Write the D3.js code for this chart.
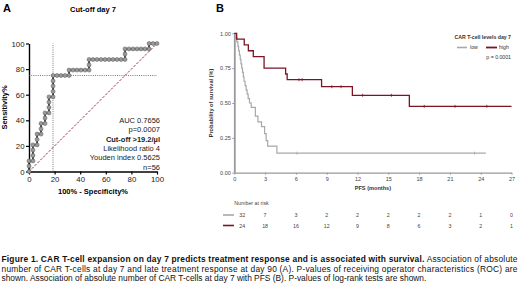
<!DOCTYPE html>
<html>
<head>
<meta charset="utf-8">
<script src="https://cdn.jsdelivr.net/npm/d3@7"></script>
<style>
  html, body { margin: 0; padding: 0; background: #fff; }
  svg { display: block; font-family: "Liberation Sans", Arial, sans-serif; }
</style>
</head>
<body>
<svg id="canvas" width="520" height="286"></svg>
<script>
// ROC curve (panel A), % values
const rocFpr = [0, 0, 0, 3.1, 3.1, 3.1, 3.1, 6.3, 6.3, 6.3, 9.4, 9.4, 9.4, 12.5, 12.5, 12.5,
  15.6, 15.6, 15.6, 15.6, 18.8, 18.8, 18.8, 18.8, 18.8, 21.9, 25, 28.1, 31.3, 31.3, 34.4,
  37.5, 40.6, 43.8, 46.9, 46.9, 46.9, 50, 53.1, 56.3, 59.4, 62.5, 65.6, 68.8, 71.9, 75,
  75, 75, 78.1, 81.3, 84.4, 87.5, 90.6, 93.8, 93.8, 96.9, 100];
const rocTpr = [0, 4.2, 8.3, 8.3, 12.5, 16.7, 20.8, 20.8, 25, 29.2, 29.2, 33.3, 37.5, 37.5, 41.7, 45.8,
  45.8, 50, 54.2, 58.3, 58.3, 62.5, 66.7, 70.8, 75, 75, 75, 75, 75, 79.2, 79.2,
  79.2, 79.2, 79.2, 79.2, 83.3, 87.5, 87.5, 87.5, 87.5, 87.5, 87.5, 87.5, 87.5, 87.5, 87.5,
  91.7, 95.8, 95.8, 95.8, 95.8, 95.8, 95.8, 95.8, 100, 100, 100];
const rocTicks = [0, 20, 40, 60, 80, 100];
const cutFpr = 18.75, cutTpr = 75;
const rocStats = ["AUC 0.7656", "p=0.0007", "Cut-off >19.2/µl", "Likelihood ratio 4", "Youden index 0.5625", "n=56"];

// Kaplan-Meier (panel B)
const lowTimes = [0, 0.15, 0.25, 0.35, 0.42, 0.5, 0.58, 0.65, 0.72, 0.8, 0.88, 0.95, 1.05, 1.15, 1.25, 1.35,
  1.48, 1.65, 2.05, 2.3, 2.65, 2.95, 3.1, 3.25, 4.15, 24.5];
const lowSurv = [1, 0.969, 0.938, 0.906, 0.875, 0.844, 0.813, 0.781, 0.75, 0.719, 0.688, 0.656, 0.625, 0.594, 0.563, 0.531,
  0.5, 0.469, 0.406, 0.365, 0.33, 0.28, 0.23, 0.19, 0.14, 0.14];
const lowCensor = [6.1, 23.4];
const highTimes = [0, 0.23, 0.97, 1.37, 1.85, 2.9, 5.0, 5.15, 8.5, 11.5, 17.05, 27];
const highSurv = [1, 0.958, 0.917, 0.875, 0.833, 0.75, 0.708, 0.667, 0.617, 0.555, 0.476, 0.476];
const highCensor = [6.3, 6.6, 9.5, 10.4, 12.5, 15.3, 18.5, 21.5, 24.6];
const monthTicks = [0, 3, 6, 9, 12, 15, 18, 21, 24, 27];
const survTicks = [0, 0.25, 0.5, 0.75, 1];
const lowRisk = [32, 7, 3, 2, 2, 2, 2, 2, 1, 0];
const highRisk = [24, 18, 16, 12, 9, 8, 6, 3, 2, 1];

const lowColor = "#a8a8a8", highColor = "#7b1526";

const svg = d3.select("#canvas");

// ---------- Panel A ----------
const xA = d3.scaleLinear().domain([0, 100]).range([29, 157]);
const yA = d3.scaleLinear().domain([0, 100]).range([171.5, 43.5]);

svg.append("text").attr("x", 3).attr("y", 12).attr("font-size", 11).attr("font-weight", "bold").text("A");
svg.append("text").attr("x", 93).attr("y", 12).attr("text-anchor", "middle")
  .attr("font-size", 7.5).attr("font-weight", "bold").text("Cut-off day 7");

// d3 axes set their own font-size/family on the group, so override after .call
svg.append("g").attr("transform", `translate(0,${yA(0)})`)
  .call(d3.axisBottom(xA).tickValues(rocTicks).tickSize(3).tickSizeOuter(0))
  .attr("font-size", 7.8).attr("font-family", "Liberation Sans")
  .call(g => g.select(".domain").attr("stroke-width", 1.4))
  .call(g => g.selectAll(".tick line").attr("stroke-width", 1.2))
  .call(g => g.selectAll("text").attr("y", 5).attr("dy", "0.75em").attr("fill", "#222"));
svg.append("g").attr("transform", `translate(${xA(0)},0)`)
  .call(d3.axisLeft(yA).tickValues(rocTicks).tickSize(3).tickSizeOuter(0))
  .attr("font-size", 7.8).attr("font-family", "Liberation Sans")
  .call(g => g.select(".domain").attr("stroke-width", 1.4))
  .call(g => g.selectAll(".tick line").attr("stroke-width", 1.2))
  .call(g => g.selectAll("text").attr("x", -4.5).attr("fill", "#222"));

svg.append("text").attr("x", 93).attr("y", 194).attr("text-anchor", "middle")
  .attr("font-size", 7.5).attr("font-weight", "bold").text("100% - Specificity%");
svg.append("text").attr("transform", `translate(7,${(yA(0) + yA(100)) / 2}) rotate(-90)`)
  .attr("text-anchor", "middle").attr("font-size", 7.5).attr("font-weight", "bold").text("Sensitivity%");

// reference lines
svg.append("line").attr("x1", xA(0)).attr("x2", xA(100)).attr("y1", yA(cutTpr)).attr("y2", yA(cutTpr))
  .attr("stroke", "#555").attr("stroke-width", 0.8).attr("stroke-dasharray", "1,1.2");
svg.append("line").attr("x1", xA(cutFpr)).attr("x2", xA(cutFpr)).attr("y1", yA(0)).attr("y2", yA(100))
  .attr("stroke", "#555").attr("stroke-width", 0.8).attr("stroke-dasharray", "1,1.2");
svg.append("line").attr("x1", xA(0)).attr("x2", xA(100)).attr("y1", yA(0)).attr("y2", yA(100))
  .attr("stroke", "#8a1c33").attr("stroke-width", 0.9).attr("stroke-dasharray", "2.5,1.5");

const roc = rocFpr.map((f, i) => [f, rocTpr[i]]);
svg.append("path").datum(roc)
  .attr("d", d3.line().x(d => xA(d[0])).y(d => yA(d[1])))
  .attr("fill", "none").attr("stroke", "#222").attr("stroke-width", 1.6);
svg.append("g").selectAll("circle").data(roc).join("circle")
  .attr("cx", d => xA(d[0])).attr("cy", d => yA(d[1])).attr("r", 2)
  .attr("fill", "#9a9a9a").attr("stroke", "#555").attr("stroke-width", 0.5);

svg.append("g").attr("font-size", 7.5).attr("text-anchor", "end")
  .selectAll("text").data(rocStats).join("text")
  .attr("x", 160).attr("y", (d, i) => 123 + i * 9.3)
  .attr("font-weight", (d, i) => i === 2 ? "bold" : "normal")
  .attr("fill", "#222")
  .text(d => d);

// ---------- Panel B ----------
const xB = d3.scaleLinear().domain([0, 27]).range([234.3, 511.5]);
const yB = d3.scaleLinear().domain([0, 1]).range([172.7, 33.3]);

svg.append("text").attr("x", 216).attr("y", 12).attr("font-size", 11).attr("font-weight", "bold").text("B");

svg.append("g").attr("transform", `translate(0,${yB(0)})`)
  .call(d3.axisBottom(xB).tickValues(monthTicks).tickSize(2).tickSizeOuter(0))
  .attr("font-size", 5.5).attr("font-family", "Liberation Sans")
  .call(g => g.select(".domain").attr("stroke", "#999").attr("stroke-width", 1.3))
  .call(g => g.selectAll(".tick line").attr("stroke", "#999"))
  .call(g => g.selectAll("text").attr("fill", "#444").attr("y", 4).attr("dy", "0.75em"));
svg.append("g").attr("transform", `translate(${xB(0)},0)`)
  .call(d3.axisLeft(yB).tickValues(survTicks).tickFormat(d3.format(".2f")).tickSize(2).tickSizeOuter(0))
  .attr("font-size", 5.5).attr("font-family", "Liberation Sans")
  .call(g => g.select(".domain").attr("stroke", "#999").attr("stroke-width", 1.8))
  .call(g => g.selectAll(".tick line").attr("stroke", "#999"))
  .call(g => g.selectAll("text").attr("fill", "#444").attr("x", -3.5));

svg.append("text").attr("x", (xB(0) + xB(27)) / 2).attr("y", 190).attr("text-anchor", "middle")
  .attr("font-size", 5.6).attr("font-weight", "bold").attr("fill", "#333").text("PFS (months)");
svg.append("text").attr("transform", `translate(213,${(yB(0) + yB(1)) / 2}) rotate(-90)`)
  .attr("text-anchor", "middle").attr("font-size", 5.6).attr("font-weight", "bold").attr("fill", "#333")
  .text("Probability of survival (%)");

const km = d3.line().curve(d3.curveStepAfter).x(d => xB(d[0])).y(d => yB(d[1]));
const lowData = lowTimes.map((t, i) => [t, lowSurv[i]]);
const highData = highTimes.map((t, i) => [t, highSurv[i]]);
svg.append("path").datum(lowData).attr("d", km).attr("fill", "none")
  .attr("stroke", lowColor).attr("stroke-width", 1.2);
svg.append("path").datum(highData).attr("d", km).attr("fill", "none")
  .attr("stroke", highColor).attr("stroke-width", 1.3);

function survAt(times, surv, t) {
  let s = surv[0];
  times.forEach((tt, i) => { if (tt <= t) s = surv[i]; });
  return s;
}
svg.append("g").selectAll("line").data(lowCensor).join("line")
  .attr("x1", d => xB(d)).attr("x2", d => xB(d))
  .attr("y1", d => yB(survAt(lowTimes, lowSurv, d)) - 1.5).attr("y2", d => yB(survAt(lowTimes, lowSurv, d)) + 1.5)
  .attr("stroke", lowColor).attr("stroke-width", 0.8);
svg.append("g").selectAll("line").data(highCensor).join("line")
  .attr("x1", d => xB(d)).attr("x2", d => xB(d))
  .attr("y1", d => yB(survAt(highTimes, highSurv, d)) - 1.5).attr("y2", d => yB(survAt(highTimes, highSurv, d)) + 1.5)
  .attr("stroke", highColor).attr("stroke-width", 0.8);

// legend
const lg = svg.append("g").attr("font-size", 5.2).attr("fill", "#333");
lg.append("text").attr("x", 511).attr("y", 39).attr("text-anchor", "end").attr("font-weight", "bold").text("CAR T-cell levels day 7");
lg.append("line").attr("x1", 457).attr("x2", 467).attr("y1", 47.5).attr("y2", 47.5).attr("stroke", lowColor).attr("stroke-width", 1.6);
lg.append("text").attr("x", 470).attr("y", 49.3).text("low");
lg.append("line").attr("x1", 486).attr("x2", 497).attr("y1", 47.5).attr("y2", 47.5).attr("stroke", highColor).attr("stroke-width", 1.8);
lg.append("text").attr("x", 499).attr("y", 49.3).text("high");
lg.append("text").attr("x", 511).attr("y", 58.5).attr("text-anchor", "end").text("p = 0.0001");

// number at risk
const rt = svg.append("g").attr("font-size", 5.3).attr("fill", "#444");
rt.append("text").attr("x", xB(0)).attr("y", 204.5).text("Number at risk");
[[lowRisk, lowColor, 217], [highRisk, highColor, 227.5]].forEach(([vals, col, y]) => {
  rt.append("line").attr("x1", 223).attr("x2", 234).attr("y1", y - 2).attr("y2", y - 2)
    .attr("stroke", col).attr("stroke-width", 1.6);
  rt.selectAll(null).data(vals).join("text")
    .attr("x", (d, i) => i === 0 ? xB(0) + 8 : xB(monthTicks[i]))
    .attr("y", y).attr("text-anchor", "middle").text(d => d);
});

// ---------- caption ----------
const cap = svg.append("g").attr("font-size", 8.4).attr("fill", "#111");
const l1 = cap.append("text").attr("x", 1.5).attr("y", 262).attr("textLength", 516).attr("lengthAdjust", "spacing");
l1.append("tspan").attr("font-weight", "bold")
  .text("Figure 1. CAR T-cell expansion on day 7 predicts treatment response and is associated with survival.");
l1.append("tspan").text(" Association of absolute");
cap.append("text").attr("x", 1.5).attr("y", 271.5).attr("textLength", 516).attr("lengthAdjust", "spacing")
  .text("number of CAR T-cells at day 7 and late treatment response at day 90 (A). P-values of receiving operator characteristics (ROC) are");
cap.append("text").attr("x", 1.5).attr("y", 281)
  .text("shown. Association of absolute number of CAR T-cells at day 7 with PFS (B). P-values of log-rank tests are shown.");
</script>
</body>
</html>
